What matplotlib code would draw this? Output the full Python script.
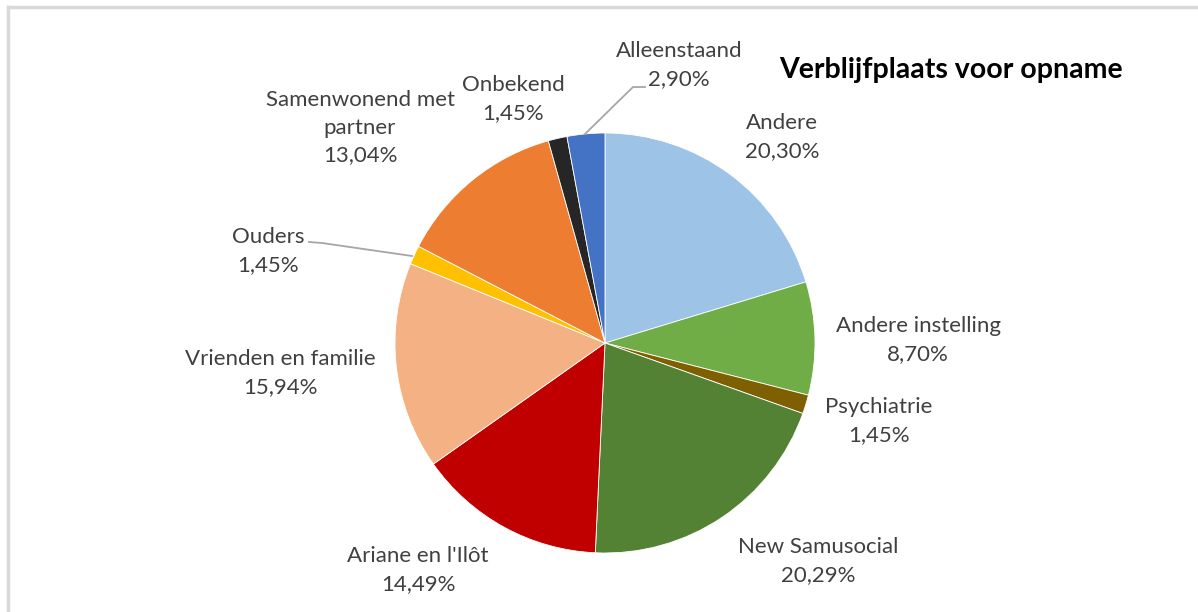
import matplotlib
matplotlib.use("Agg")
import matplotlib.pyplot as plt
from matplotlib.lines import Line2D

categories = ["Andere", "Andere instelling", "Psychiatrie", "New Samusocial",
              "Ariane en l'Ilôt", "Vrienden en familie", "Ouders",
              "Samenwonend met\npartner", "Onbekend", "Alleenstaand"]
values = [20.30, 8.70, 1.45, 20.29, 14.49, 15.94, 1.45, 13.04, 1.45, 2.90]
colors = ["#9DC3E6", "#70AD47", "#7F6000", "#548235", "#C00000",
          "#F4B183", "#FFC000", "#ED7D31", "#262626", "#4472C4"]
title = "Verblijfplaats voor opname"

# label centre positions in pixels (x from left, y from top)
label_pos = [(782, 137), (918, 340), (879, 421), (818, 561), (418, 570),
             (280, 373), (268, 251), (360, 128), (513, 99), (679, 65)]

W, H = 1198, 612
fig = plt.figure(figsize=(W / 100, H / 100), dpi=100)
ax = fig.add_axes([0, 0, 1, 1])
ax.set_xlim(0, W)
ax.set_ylim(0, H)
ax.set_aspect("equal")
ax.axis("off")

cx, cy, r = 605, H - 343, 210
wedges, _ = ax.pie(values, colors=colors, startangle=90, counterclock=False,
                   center=(cx, cy), radius=r,
                   wedgeprops=dict(edgecolor="white", linewidth=0.6))
ax.set_xlim(0, W)
ax.set_ylim(0, H)

font = "Lato"
for cat, v, (lx, ly) in zip(categories, values, label_pos):
    txt = f"{cat}\n{v:.2f}%".replace(".", ",")
    ax.text(lx, H - ly, txt, ha="center", va="center", fontsize=16,
            color="#404040", family=font, linespacing=1.47)

# leader lines
lc = "#A6A6A6"
ax.add_line(Line2D([585, 633, 645], [H - 134, H - 87, H - 87], color=lc, lw=1.3))
ax.add_line(Line2D([309, 322, 412], [H - 242, H - 243, H - 256], color=lc, lw=1.3))

ax.text(951, H - 70, title, ha="center", va="center", fontsize=20.5,
        fontweight="bold", color="black", family=font)

# chart frame (partly clipped)
fig.add_artist(Line2D([8, 8], [0, H - 7], transform=None, color="#D9D9D9", lw=2.5))
fig.add_artist(Line2D([8, W], [H - 7, H - 7], transform=None, color="#D9D9D9", lw=2.5))

fig.savefig("out.png", dpi=100)
